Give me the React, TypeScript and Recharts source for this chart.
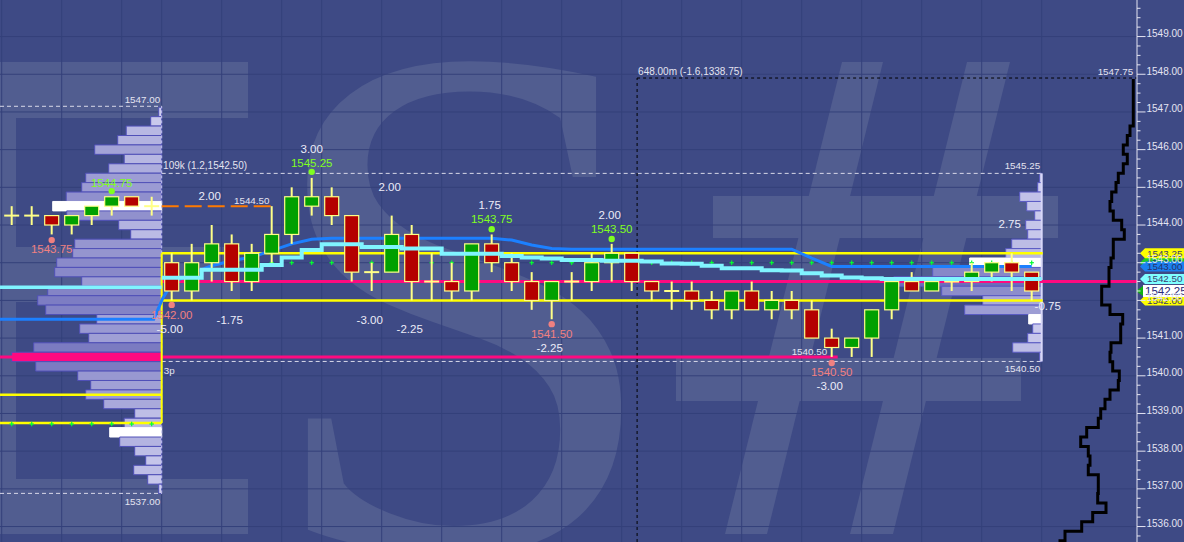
import React from 'react';
import { ComposedChart, Bar, Line, Scatter, XAxis, YAxis, ReferenceLine, ReferenceArea } from 'recharts';

const W = 1184;
const H = 542;
const FONT = "'Liberation Sans', Arial, sans-serif";
const BG = '#3e4a85';
const WM = '#515d90';
const GRID = '#34407a';
const AXIS = '#e4e4f2';
const WICK = '#ffff88';
const UP = '#00a000';
const DOWN = '#b40000';

const X_MIN = -0.585;
const X_MAX = 56.265;
const Y_MIN = 1535.59;
const Y_MAX = 1549.97;

// ---- OHLC bars ----
const opens = [1544.25, 1544.25, 1544.25, 1544.0, 1544.25, 1544.5, 1544.75, 1544.5,
  1543.0, 1542.25, 1543.0, 1543.5, 1542.5, 1543.25, 1543.75, 1544.5, 1544.75, 1544.25, 1542.75, 1542.75,
  1543.75, 1542.5, 1542.5, 1542.25, 1543.5, 1543.0, 1542.5, 1542.0, 1542.5, 1542.5, 1543.0, 1543.25,
  1542.5, 1542.25, 1542.25, 1542.0, 1541.75, 1542.25, 1541.75, 1542.0, 1541.75, 1541.0, 1540.75, 1541.0,
  1541.75, 1542.5, 1542.25, 1542.5, 1542.5, 1542.75, 1543.0, 1542.75];
const highs = [1544.5, 1544.5, 1544.25, 1544.25, 1544.5, 1544.75, 1544.75, 1544.75,
  1543.25, 1543.5, 1544.0, 1543.75, 1543.5, 1544.5, 1545.0, 1545.25, 1545.0, 1544.25, 1543.0, 1544.25,
  1544.0, 1543.25, 1543.0, 1543.5, 1543.75, 1543.25, 1542.75, 1542.5, 1542.75, 1543.25, 1543.5, 1543.25,
  1542.5, 1542.5, 1542.5, 1542.25, 1542.25, 1542.5, 1542.25, 1542.25, 1542.0, 1541.25, 1541.0, 1541.75,
  1542.5, 1542.75, 1542.5, 1542.5, 1543.0, 1543.0, 1543.25, 1542.75];
const lows = [1544.0, 1544.0, 1543.75, 1543.75, 1544.0, 1544.25, 1544.5, 1544.25,
  1542.0, 1542.0, 1542.5, 1542.25, 1542.25, 1543.0, 1543.5, 1544.25, 1544.0, 1542.5, 1542.25, 1542.75,
  1542.0, 1542.0, 1542.0, 1542.0, 1542.75, 1542.25, 1541.75, 1541.5, 1542.0, 1542.25, 1542.5, 1542.25,
  1542.0, 1541.75, 1541.75, 1541.5, 1541.5, 1541.75, 1541.5, 1541.5, 1541.0, 1540.5, 1540.5, 1540.5,
  1541.5, 1542.25, 1542.25, 1542.25, 1542.25, 1542.5, 1542.25, 1542.0];
const closes = [1544.25, 1544.25, 1544.0, 1544.25, 1544.5, 1544.75, 1544.5, 1544.5,
  1542.25, 1543.0, 1543.5, 1542.5, 1543.25, 1543.75, 1544.75, 1544.75, 1544.25, 1542.75, 1542.75, 1543.75,
  1542.5, 1542.5, 1542.25, 1543.5, 1543.0, 1542.5, 1542.0, 1542.5, 1542.5, 1543.0, 1543.25, 1542.5,
  1542.25, 1542.25, 1542.0, 1541.75, 1542.25, 1541.75, 1542.0, 1541.75, 1541.0, 1540.75, 1541.0, 1541.75,
  1542.5, 1542.25, 1542.5, 1542.5, 1542.75, 1543.0, 1542.75, 1542.25];

// ---- VWAP-like lines ----
const SESSION_START = 8;
const prevBlue = 1541.5;
const blueSession = [1542.45, 1542.72, 1542.92, 1543.05, 1543.15, 1543.32, 1543.5, 1543.62, 1543.65, 1543.65,
  1543.65, 1543.65, 1543.65, 1543.65, 1543.65, 1543.65, 1543.65, 1543.6, 1543.47, 1543.38,
  1543.36, 1543.36, 1543.36, 1543.36, 1543.36, 1543.36, 1543.36, 1543.36, 1543.36, 1543.36, 1543.36, 1543.36,
  1543.12, 1542.9, 1542.9, 1542.9, 1542.9, 1542.9, 1542.9, 1542.9, 1542.9, 1542.9, 1542.9, 1542.9];
const prevCyan = 1542.35;
const cyanSession = [1542.6, 1542.6, 1542.81, 1542.81, 1542.81, 1542.94, 1543.14, 1543.34, 1543.49, 1543.49,
  1543.42, 1543.42, 1543.38, 1543.38, 1543.24, 1543.24, 1543.24, 1543.18, 1543.14, 1543.11,
  1543.07, 1543.07, 1543.05, 1543.05, 1543.03, 1542.98, 1542.97, 1542.92, 1542.85, 1542.85, 1542.8, 1542.79,
  1542.72, 1542.66, 1542.61, 1542.59, 1542.57, 1542.57, 1542.57, 1542.57, 1542.57, 1542.57, 1542.57, 1542.57];
const greenMarkSession = 1543.0;
const greenMarkPrev = 1538.72;

// ---- Volume profiles (price step 0.25) ----
const leftProfileTop = 1547.0;
const leftProfileVol = [3, 11, 35.5, 44, 67, 37.5, 53, 76, 80, 95.5, 109, 95, 43, 31, 87, 89, 105, 107, 80, 114,
  124, 116, 65, 82, 73, 128, 150, 126, 84, 71, 76, 58, 27, 37.5, 52, 42, 27, 16, 28, 14, 3];
const leftProfileWhite = [1544.5, 1538.5];
const leftPoc = 1540.5;
const rightProfileTop = 1545.25;
const rightProfileVol = [2, 4, 22, 15, 7, 16, 14, 30, 36, 72, 109, 148, 100, 59, 77, 13, 9, 14, 29, 2];
const rightProfileWhite = [1543.0, 1541.5];
const LEFT_EDGE = 7.5;
const RIGHT_EDGE = 51.5;
const VOL_TO_BARS = 1 / 20;

// ---- TPO outline (from 1547.75 down, step 0.25) ----
const tpoTop = 1547.75;
const tpoLen = [1.7, 1.7, 1.7, 1.7, 1.7, 5, 7.7, 11.7, 7.7, 11.7, 16.7, 19, 23.3, 25, 21.7, 13.3, 10.7, 21.7, 21.7, 24,
  26, 26, 33.3, 33.3, 25, 12.3, 14.3, 14.3, 24, 25, 22.3, 15.7, 16.7, 25, 30, 34.3, 36.7, 48.3, 54.3, 46.7,
  45, 46.7, 36.7, 36.7, 37.3, 29, 42.3, 53.3, 70, 75];
const TPO_AXIS = 56.165;

// ---- levels ----
const ibHigh = 1543.25;
const ibLow = 1542.0;
const prevIbHigh = 1539.5;
const prevIbLow = 1538.75;
const sessionPoc = 1542.5;
const prevPoc = 1540.5;
const prevPocEnd = 41.3;
const orangeLevel = 1544.5;
const orangeEnd = 13.0;
const sessionRangeTop = 1545.37;
const sessionRangeBot = 1540.38;
const prevRangeTop = 1547.15;
const prevRangeBot = 1536.88;
const cursorX = 31.27;
const cursorY = 1547.9;
const gridX = [-0.5, 2.5, 5.5, 7.5, 10.5, 13.5, 15.5, 18.5, 21.5, 24.5, 27.5, 30.5, 33.5, 36.5, 39.5, 42.5, 45.5, 48.5, 51.5];
const gridY = [1536, 1537, 1538, 1539, 1540, 1541, 1542, 1543, 1544, 1545, 1546, 1547, 1548, 1549];
const priceTicks = Array.from({ length: 57 }, (_, i) => 1535.75 + i * 0.25);

// ---- annotations ----
const highDots = [{ x: 5, y: 1544.9 }, { x: 15, y: 1545.41 }, { x: 24, y: 1543.89 }, { x: 30, y: 1543.63 }];
const lowDots = [{ x: 2, y: 1543.6 }, { x: 8, y: 1541.88 }, { x: 27, y: 1541.37 }, { x: 41, y: 1540.34 }];
const highLabels = [
  { x: 5, y: 1545.11, t: '1544.75' }, { x: 15, y: 1545.645, t: '1545.25' },
  { x: 24, y: 1544.16, t: '1543.75' }, { x: 30, y: 1543.89, t: '1543.50' }];
const lowLabels = [
  { x: 2, y: 1543.36, t: '1543.75' }, { x: 8, y: 1541.61, t: '1542.00' },
  { x: 27, y: 1541.11, t: '1541.50' }, { x: 41, y: 1540.1, t: '1540.50' }];
const deltaLabels = [
  { x: 15, y: 1546.02, t: '3.00' }, { x: 9.9, y: 1544.77, t: '2.00' }, { x: 18.9, y: 1545.01, t: '2.00' },
  { x: 23.9, y: 1544.53, t: '1.75' }, { x: 29.9, y: 1544.27, t: '2.00' }, { x: 7.9, y: 1541.24, t: '-5.00' },
  { x: 10.9, y: 1541.48, t: '-1.75' }, { x: 17.9, y: 1541.48, t: '-3.00' }, { x: 19.9, y: 1541.24, t: '-2.25' },
  { x: 26.9, y: 1540.74, t: '-2.25' }, { x: 40.9, y: 1539.73, t: '-3.00' }, { x: 49.9, y: 1544.02, t: '2.75' },
  { x: 51.8, y: 1541.85, t: '-0.75' }];
const infoLabels = [
  { x: 7.57, y: 1545.58, t: '109k (1.2,1542.50)', a: 'start' },
  { x: 12.0, y: 1544.64, t: '1544.50', a: 'middle' },
  { x: 51.42, y: 1545.58, t: '1545.25', a: 'end' },
  { x: 51.42, y: 1540.18, t: '1540.50', a: 'end' },
  { x: 7.42, y: 1547.32, t: '1547.00', a: 'end' },
  { x: 7.42, y: 1536.65, t: '1537.00', a: 'end' },
  { x: 7.6, y: 1540.15, t: '3p', a: 'start' },
  { x: 40.77, y: 1540.63, t: '1540.50', a: 'end' },
  { x: 31.32, y: 1548.06, t: '648.00m (-1.6,1338.75)', a: 'start' },
  { x: 56.07, y: 1548.06, t: '1547.75', a: 'end' }];
const axisTags = [
  { v: 1543.0, t: '1543.00', bg: '#20d020', fg: '#203060' },
  { v: 1543.25, t: '1543.25', bg: '#ffff00', fg: '#3a3a70' },
  { v: 1542.9, t: '1543.00', bg: '#1a80f0', fg: '#28306a' },
  { v: 1542.57, t: '1542.50', bg: '#80ffff', fg: '#3a3a70' },
  { v: 1542.0, t: '1542.00', bg: '#ffff00', fg: '#3a3a70' },
  { v: 1542.25, t: '1542.25', bg: '#ffffff', fg: '#2a2a7a', big: true }];

// ---- derived series data ----
const candleData = opens.map((o, i) => ({ x: i, range: [lows[i], highs[i]], o, h: highs[i], l: lows[i], c: closes[i] }));
const blueData = [
  { x: X_MIN, v: prevBlue }, { x: 7.1, v: prevBlue }, { x: 7.55, v: 1542.05 },
  ...blueSession.map((v, i) => ({ x: SESSION_START + i, v }))];
const cyanPrevData = [{ x: X_MIN, v: prevCyan }, { x: LEFT_EDGE, v: prevCyan }];
const cyanData = [
  ...cyanSession.map((v, i) => ({ x: SESSION_START + i - 0.5, v })),
  { x: RIGHT_EDGE, v: cyanSession[cyanSession.length - 1] }];
const greenMarks = [
  ...opens.slice(0, SESSION_START).map((_, i) => ({ x: i, y: greenMarkPrev })),
  ...opens.slice(SESSION_START).map((_, i) => ({ x: SESSION_START + i, y: greenMarkSession }))];
const tpoData: { x: number; v: number }[] = [];
tpoLen.forEach((d, i) => {
  const p = tpoTop - i * 0.25;
  const x = TPO_AXIS - d * VOL_TO_BARS;
  tpoData.push({ x, v: p + 0.125 });
  tpoData.push({ x, v: p - 0.125 });
});
const textData = [
  ...highLabels.map((d) => ({ ...d, c: '#80ff20', s: 11.5, a: 'middle' })),
  ...lowLabels.map((d) => ({ ...d, c: '#f08080', s: 11.5, a: 'middle' })),
  ...deltaLabels.map((d) => ({ ...d, c: '#ececf8', s: 11.5, a: 'middle' })),
  ...infoLabels.map((d) => ({ ...d, c: '#e4e4f0', s: d.t.length > 12 ? 10 : 9.8 }))];

const profFill = (w: number) => {
  const t = Math.min(w / 150, 1);
  const r = Math.round(208 - 100 * t);
  const b = Math.round(240 - 55 * t);
  return `rgb(${r},${r},${b})`;
};

const renderCandle = (props: any) => {
  const { x, y, width, height, payload } = props;
  if (x == null || payload == null) return <g />;
  const cx = x + width / 2;
  const top0 = Math.min(y, y + height);
  const hh = Math.abs(height);
  const { o, c, h, l } = payload;
  const k = h - l > 0 ? hh / (h - l) : 0;
  const yO = top0 + (h - o) * k;
  const yC = top0 + (h - c) * k;
  const bt = Math.min(yO, yC);
  const bb = Math.max(yO, yC);
  return (
    <g>
      <line x1={cx} x2={cx} y1={top0} y2={top0 + hh} stroke={WICK} strokeWidth={2} />
      {o === c ? (
        <line x1={cx - 7.5} x2={cx + 7.5} y1={yO} y2={yO} stroke={WICK} strokeWidth={2} />
      ) : (
        <rect x={cx - 7} y={bt} width={14} height={bb - bt} fill={c > o ? UP : DOWN} stroke={WICK} strokeWidth={1.2} />
      )}
    </g>
  );
};

const renderText = (p: any) => {
  const d = p.payload;
  if (p.cx == null || !d) return <g />;
  return (
    <text x={p.cx} y={p.cy} dy="0.35em" textAnchor={d.a} fill={d.c} fontSize={d.s} fontFamily={FONT}>{d.t}</text>
  );
};

const renderPlus = (p: any) => {
  if (p.cx == null) return <g />;
  return (
    <g stroke="#00ff30" strokeWidth={1.2}>
      <line x1={p.cx - 2.2} x2={p.cx + 2.2} y1={p.cy} y2={p.cy} />
      <line x1={p.cx} x2={p.cx} y1={p.cy - 2.2} y2={p.cy + 2.2} />
    </g>
  );
};

const dotShape = (color: string) => (p: any) => {
  if (p.cx == null) return <g />;
  return <circle cx={p.cx} cy={p.cy} r={3.2} fill={color} />;
};

const PriceTick = (props: any) => {
  const { x, y, payload } = props;
  const v = payload.value;
  const major = Math.abs(v - Math.round(v)) < 1e-6;
  return (
    <g>
      <line x1={x} x2={x + (major ? 8.5 : 3.5)} y1={y} y2={y} stroke={AXIS} strokeWidth={1} />
      {major && (
        <text x={x + 9.5} y={y + 0.5} fill={AXIS} fontSize={10} fontFamily={FONT}>{v.toFixed(2)}</text>
      )}
    </g>
  );
};

const tagContent = (tag: any) => (props: any) => {
  const vb = props.viewBox || {};
  const xr = (vb.x || 0) + (vb.width || 0);
  const yc = vb.y || 0;
  if (tag.big) {
    return (
      <g>
        <polygon points={`${xr - 1},${yc} ${xr + 6},${yc - 5} ${xr + 6},${yc + 5}`} fill="#10b010" />
        <rect x={xr + 6} y={yc - 6} width={W - xr} height={12} fill={tag.bg} />
        <text x={xr + 8} y={yc} dy="0.36em" fill={tag.fg} fontSize={11.5} fontFamily={FONT}>{tag.t}</text>
      </g>
    );
  }
  return (
    <g>
      <polygon points={`${xr + 3},${yc} ${xr + 8},${yc - 5} ${W},${yc - 5} ${W},${yc + 5} ${xr + 8},${yc + 5}`} fill={tag.bg} />
      <text x={xr + 10} y={yc} dy="0.36em" fill={tag.fg} fontSize={9.8} fontFamily={FONT}>{tag.t}</text>
    </g>
  );
};

const hseg = (y: number, x1: number, x2: number) => [{ x: x1, y }, { x: x2, y }];
const vseg = (x: number, y1: number, y2: number) => [{ x, y: y1 }, { x, y: y2 }];

export default function App() {
  const leftBars = leftProfileVol.map((w, i) => {
    const p = leftProfileTop - i * 0.25;
    const poc = Math.abs(p - leftPoc) < 1e-6;
    const white = leftProfileWhite.some((q) => Math.abs(q - p) < 1e-6);
    return (
      <ReferenceArea key={`lp${i}`} x1={LEFT_EDGE - w * VOL_TO_BARS} x2={LEFT_EDGE} y1={p - 0.125} y2={p + 0.125}
        fill={poc ? '#ff0a80' : white ? '#ffffff' : profFill(w)} fillOpacity={1}
        stroke={white ? '#ffffff' : '#5050b8'} strokeWidth={1} ifOverflow="visible" zIndex={20} />
    );
  });
  const rightBars = rightProfileVol.map((w, i) => {
    const p = rightProfileTop - i * 0.25;
    const white = rightProfileWhite.some((q) => Math.abs(q - p) < 1e-6);
    return (
      <ReferenceArea key={`rp${i}`} x1={RIGHT_EDGE - w * VOL_TO_BARS} x2={RIGHT_EDGE} y1={p - 0.125} y2={p + 0.125}
        fill={white ? '#ffffff' : profFill(w)} fillOpacity={1}
        stroke={white ? '#ffffff' : '#5a5ac4'} strokeWidth={1} ifOverflow="visible" zIndex={20} />
    );
  });

  return (
    <div style={{ position: 'fixed', left: 0, top: 0, width: W, height: H, overflow: 'hidden', background: BG }}>
      <svg width={W} height={H} style={{ position: 'absolute', left: 0, top: 0 }}>
        <rect x={0} y={0} width={W} height={H} fill={BG} />
        <path d="M-80 62 H248 V118 H16 V247 H240 V302 H16 V479 H248 V534 H-80 Z" fill={WM} />
        <text x={258} y={548} fontFamily="'Liberation Serif', serif" fontSize={735} fill={WM}>S</text>
        <polygon points="842,62 883,62 767,534 725,534" fill={WM} />
        <polygon points="967,62 1010,62 893,534 850,534" fill={WM} />
        <rect x={713} y={196} width={345} height={42} fill={WM} />
        <rect x={676} y={358} width={345} height={43} fill={WM} />
      </svg>
      <div style={{ position: 'absolute', left: 0, top: 0 }}>
        <ComposedChart width={W} height={H} data={candleData} margin={{ top: 0, right: 0, bottom: 0, left: 0 }}>
          <XAxis dataKey="x" type="number" domain={[X_MIN, X_MAX]} allowDataOverflow hide />
          <YAxis orientation="right" type="number" domain={[Y_MIN, Y_MAX]} allowDataOverflow width={47}
            ticks={priceTicks} interval={0} tick={<PriceTick />} tickLine={false} tickSize={0} tickMargin={0}
            axisLine={{ stroke: AXIS, strokeWidth: 1 }} />

          {gridX.map((g) => (
            <ReferenceLine key={`gx${g}`} x={g} stroke={GRID} strokeWidth={1} ifOverflow="visible" zIndex={10} />
          ))}
          {gridY.map((g) => (
            <ReferenceLine key={`gy${g}`} y={g} stroke={GRID} strokeWidth={1} ifOverflow="visible" zIndex={10} />
          ))}

          {leftBars}
          {rightBars}

          <ReferenceLine segment={vseg(LEFT_EDGE, prevRangeBot, prevRangeTop)} stroke="#c8c8f0" strokeDasharray="3 2" strokeWidth={1} ifOverflow="visible" zIndex={30} />
          <ReferenceLine segment={vseg(RIGHT_EDGE, sessionRangeBot, sessionRangeTop)} stroke="#d8d8f8" strokeWidth={2} ifOverflow="visible" zIndex={30} />
          <ReferenceLine segment={hseg(prevRangeTop, X_MIN, LEFT_EDGE)} stroke="#d8d8e8" strokeDasharray="4 3" ifOverflow="visible" zIndex={30} />
          <ReferenceLine segment={hseg(prevRangeBot, X_MIN, LEFT_EDGE)} stroke="#d8d8e8" strokeDasharray="4 3" ifOverflow="visible" zIndex={30} />
          <ReferenceLine segment={hseg(sessionRangeTop, LEFT_EDGE, RIGHT_EDGE)} stroke="#d8d8e8" strokeDasharray="4 3" ifOverflow="visible" zIndex={30} />
          <ReferenceLine segment={hseg(sessionRangeBot, LEFT_EDGE, RIGHT_EDGE)} stroke="#d8d8e8" strokeDasharray="4 3" ifOverflow="visible" zIndex={30} />
          <ReferenceLine segment={hseg(cursorY, cursorX, X_MAX)} stroke="#000000" strokeDasharray="3 3" ifOverflow="visible" zIndex={30} />
          <ReferenceLine segment={vseg(cursorX, Y_MIN, cursorY)} stroke="#000000" strokeDasharray="3 3" ifOverflow="visible" zIndex={30} />
          <ReferenceLine segment={hseg(prevPoc, X_MIN, prevPocEnd)} stroke="#ff0a80" strokeWidth={3} ifOverflow="visible" zIndex={30} />
          <ReferenceLine segment={hseg(sessionPoc, LEFT_EDGE, X_MAX)} stroke="#ff0a80" strokeWidth={3} ifOverflow="visible" zIndex={30} />
          <ReferenceLine segment={hseg(prevIbHigh, X_MIN, LEFT_EDGE)} stroke="#ffff00" strokeWidth={2.5} ifOverflow="visible" zIndex={30} />
          <ReferenceLine segment={hseg(prevIbLow, X_MIN, LEFT_EDGE)} stroke="#ffff00" strokeWidth={2.5} ifOverflow="visible" zIndex={30} />
          <ReferenceLine segment={hseg(ibHigh, LEFT_EDGE, RIGHT_EDGE + 0.05)} stroke="#ffff00" strokeWidth={2.5} ifOverflow="visible" zIndex={30} />
          <ReferenceLine segment={hseg(ibLow, LEFT_EDGE, RIGHT_EDGE + 0.05)} stroke="#ffff00" strokeWidth={2.5} ifOverflow="visible" zIndex={30} />
          <ReferenceLine segment={vseg(LEFT_EDGE, prevIbLow, ibHigh)} stroke="#ffff00" strokeWidth={2} ifOverflow="visible" zIndex={30} />
          <ReferenceLine segment={hseg(orangeLevel, LEFT_EDGE, orangeEnd)} stroke="#ff7a00" strokeWidth={2} strokeDasharray="17 6" ifOverflow="visible" zIndex={30} />

          <Line data={blueData} dataKey="v" type="linear" stroke="#1c80ff" strokeWidth={3} dot={false} activeDot={false} isAnimationActive={false} zIndex={40} />
          <Scatter data={greenMarks} dataKey="y" shape={renderPlus} isAnimationActive={false} zIndex={45} />

          <Bar dataKey="range" barSize={14} shape={renderCandle} isAnimationActive={false} zIndex={50} />

          <Line data={cyanPrevData} dataKey="v" type="linear" stroke="#80f4ff" strokeWidth={3.5} dot={false} activeDot={false} isAnimationActive={false} zIndex={60} />
          <Line data={cyanData} dataKey="v" type="stepAfter" stroke="#80f4ff" strokeWidth={4} dot={false} activeDot={false} isAnimationActive={false} zIndex={60} />
          <Line data={tpoData} dataKey="v" type="linear" stroke="#000000" strokeWidth={3} dot={false} activeDot={false} isAnimationActive={false} zIndex={70} />

          <Scatter data={highDots} dataKey="y" shape={dotShape('#80ff20')} isAnimationActive={false} zIndex={80} />
          <Scatter data={lowDots} dataKey="y" shape={dotShape('#f08080')} isAnimationActive={false} zIndex={80} />
          <Scatter data={textData} dataKey="y" shape={renderText} isAnimationActive={false} zIndex={85} />

          {axisTags.map((tag) => (
            <ReferenceLine key={`tag${tag.v}`} y={tag.v} stroke="none" ifOverflow="visible" zIndex={90}
              label={tagContent(tag)} />
          ))}
        </ComposedChart>
      </div>
    </div>
  );
}
